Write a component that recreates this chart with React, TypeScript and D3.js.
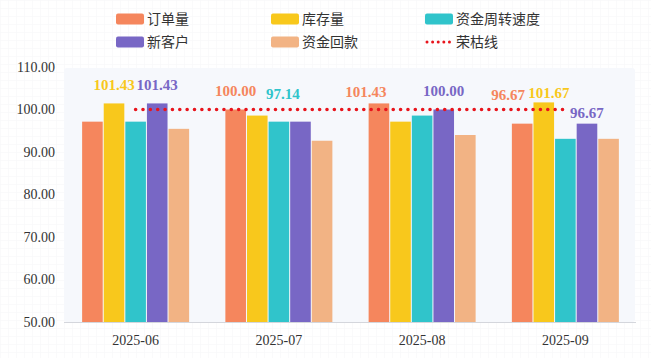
import React from 'react';
import * as d3 from 'd3';

// chart data
const categories = ['2025-06', '2025-07', '2025-08', '2025-09'];
const seriesNames = ['订单量', '库存量', '资金周转速度', '新客户', '资金回款'];
const orderValues = [97.14, 100.0, 101.43, 96.67];
const inventoryValues = [101.43, 98.57, 97.14, 101.67];
const turnoverValues = [97.14, 97.14, 98.57, 93.1];
const newCustomerValues = [101.43, 97.14, 100.0, 96.67];
const collectionValues = [95.45, 92.65, 94.0, 93.1];
const boomLineName = '荣枯线';
const boomLineValues = [100, 100, 100, 100];
const yTicks = [50, 60, 70, 80, 90, 100, 110];

const seriesColors = ['#f5865d', '#f8c81c', '#30c4cb', '#7867c5', '#f2b384'];
const lineColor = '#e8141c';

// which bars carry a value label (lift = px above bar top, shift = px sideways)
const labelPlacement = [
  { cat: 0, s: 1, lift: 13, shift: 0 },
  { cat: 0, s: 3, lift: 13, shift: 0 },
  { cat: 1, s: 0, lift: 13.5, shift: 0 },
  { cat: 1, s: 2, lift: 22.5, shift: 4 },
  { cat: 2, s: 0, lift: 6.5, shift: -13 },
  { cat: 2, s: 3, lift: 13.5, shift: 0 },
  { cat: 3, s: 0, lift: 23.5, shift: -14 },
  { cat: 3, s: 1, lift: 4.5, shift: 5 },
  { cat: 3, s: 3, lift: 6, shift: 0 },
];

const W = 651;
const H = 358;
const margin = { left: 64, right: 14, top: 67, bottom: 36 };

export default function App() {
  const series = [orderValues, inventoryValues, turnoverValues, newCustomerValues, collectionValues];

  const x0 = d3.scaleBand()
    .domain(categories)
    .range([margin.left, W - margin.right])
    .paddingInner(0.246)
    .paddingOuter(0.123);

  const x1 = d3.scaleBand()
    .domain(seriesNames)
    .range([0, x0.bandwidth()]);

  const y = d3.scaleLinear()
    .domain([50, 110])
    .range([H - margin.bottom, margin.top]);

  const line = d3.line<number>()
    .x((_, i) => (x0(categories[i]) as number) + x0.bandwidth() / 2)
    .y(d => y(d));

  const serif = '"Liberation Serif", "Times New Roman", serif';
  const cjk = '"Noto Sans CJK SC", "Noto Sans", sans-serif';

  // legend entries: 3 columns, 2 rows
  const legendCols = [116, 271, 425];
  const legendRows = [19, 42];
  const legendItems = [...seriesNames, boomLineName];

  return (
    <svg width={W} height={H} style={{ position: 'absolute', left: 0, top: 0, background: '#fff' }}>
      <defs>
        <pattern id="bgGrid" width="8" height="8" patternUnits="userSpaceOnUse">
          <path d="M 8 0 L 0 0 0 8" fill="none" stroke="#f5f6f7" strokeWidth="1" />
        </pattern>
      </defs>
      <rect width={W} height={H} fill="url(#bgGrid)" />

      {/* plot background */}
      <rect
        x={margin.left}
        y={margin.top + 1}
        width={W - margin.left - margin.right - 2}
        height={H - margin.bottom - margin.top - 1}
        rx={3}
        fill="#f6f8fc"
      />

      {/* y axis labels */}
      {yTicks.map(t => (
        <text
          key={t}
          x={55}
          y={y(t)}
          dy="0.35em"
          textAnchor="end"
          fontFamily={serif}
          fontSize={14}
          fill="#333"
        >
          {t.toFixed(2)}
        </text>
      ))}

      {/* bars */}
      {categories.map((c, ci) => (
        <g key={c} transform={`translate(${x0(c)},0)`}>
          {series.map((vals, si) => (
            <rect
              key={si}
              x={(x1(seriesNames[si]) as number) + 0.5}
              y={y(vals[ci])}
              width={x1.bandwidth() - 1}
              height={y(50) - y(vals[ci])}
              fill={seriesColors[si]}
            />
          ))}
        </g>
      ))}

      {/* x axis */}
      <line
        x1={margin.left}
        x2={W - margin.right - 1}
        y1={y(50) + 0.5}
        y2={y(50) + 0.5}
        stroke="#d4d6dc"
      />
      {categories.map(c => (
        <text
          key={c}
          x={(x0(c) as number) + x0.bandwidth() / 2}
          y={345}
          textAnchor="middle"
          fontFamily={serif}
          fontSize={14}
          fill="#333"
        >
          {c}
        </text>
      ))}

      {/* boom-bust line */}
      <path
        d={line(boomLineValues) || ''}
        fill="none"
        stroke={lineColor}
        strokeWidth={3.6}
        strokeLinecap="round"
        strokeDasharray="0.01 7.35"
      />

      {/* value labels */}
      {labelPlacement.map((l, i) => {
        const v = series[l.s][l.cat];
        const cx = (x0(categories[l.cat]) as number) + (x1(seriesNames[l.s]) as number) + x1.bandwidth() / 2;
        return (
          <text
            key={i}
            x={cx + l.shift}
            y={y(v) - l.lift}
            textAnchor="middle"
            fontFamily={serif}
            fontWeight="bold"
            fontSize={15}
            fill={seriesColors[l.s]}
          >
            {v.toFixed(2)}
          </text>
        );
      })}

      {/* legend */}
      {legendItems.map((name, i) => {
        const lx = legendCols[i % 3];
        const ly = legendRows[Math.floor(i / 3)];
        const isLine = i === 5;
        return (
          <g key={name}>
            {isLine ? (
              <line
                x1={lx + 2}
                x2={lx + 26}
                y1={ly}
                y2={ly}
                stroke={lineColor}
                strokeWidth={3}
                strokeLinecap="round"
                strokeDasharray="0.01 5.6"
              />
            ) : (
              <rect x={lx} y={ly - 5.5} width={28} height={11} rx={2} fill={seriesColors[i]} />
            )}
            <text
              x={lx + 31}
              y={ly}
              dy="0.35em"
              fontFamily={cjk}
              fontSize={14}
              fill="#333"
            >
              {name}
            </text>
          </g>
        );
      })}
    </svg>
  );
}
